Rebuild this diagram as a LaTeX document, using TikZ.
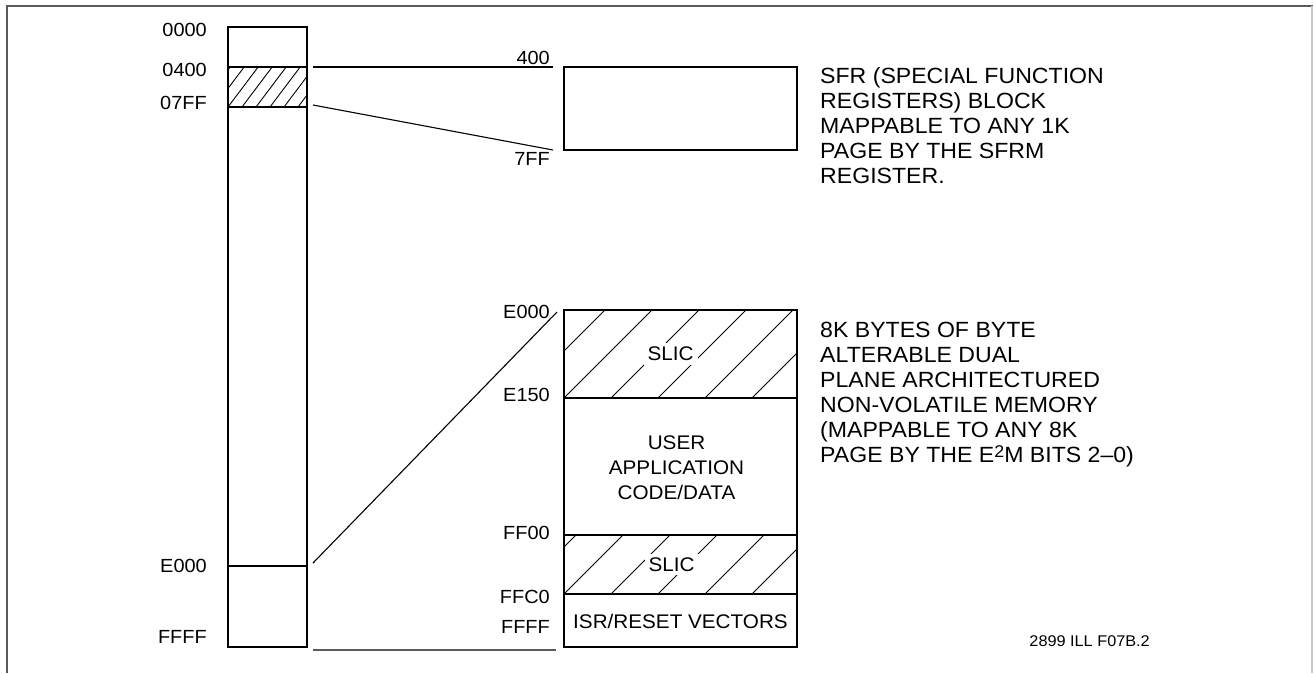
\documentclass[tikz,border=0pt]{standalone}
\usepackage{fontspec}
\setmainfont{Liberation Sans}[FakeStretch=1.05]
\usetikzlibrary{calc,positioning}
\definecolor{rule}{RGB}{90,90,90}
\definecolor{faint}{RGB}{200,200,200}
\tikzset{
  mem/.style={draw,line width=2.4pt,minimum width=79pt,inner sep=0pt,outer sep=0pt,anchor=north west},
  nvm/.style={mem,minimum width=233pt},
  hatch/.style 2 args={path picture={\foreach \k in {-8,...,8}
      \draw[line width=0.9pt] ([xshift=\k*#1]path picture bounding box.south west) -- ++(#2:300pt);}},
  addr/.style={font=\fontsize{19}{20}\selectfont,inner sep=0pt},
  desc/.style={font=\fontsize{22}{25}\selectfont,align=left,anchor=north west,inner sep=0pt},
  cell/.style={font=\fontsize{19.7}{25}\selectfont,align=center,inner sep=0pt},
  link/.style={line width=1.1pt}
}
\begin{document}
\begin{tikzpicture}[x=1pt,y=-1pt]
\useasboundingbox (0,0) rectangle (1314,673);
% frame
\draw[rule,line width=2pt] (7,673) -- (7,6) -- (1313,6);
\draw[faint,line width=2pt] (1312,6) -- (1312,673);
% full 64K map
\node[mem,minimum height=40pt] (m0) at (228,27) {};
\node[mem,minimum height=40pt,hatch={14pt}{53}] (msfr) at (228,67) {};
\node[mem,minimum height=459pt] (mlow) at (228,107) {};
\node[mem,minimum height=81pt] (mtop) at (228,566) {};
\node[addr,anchor=east] (a0000) at ([shift={(-21,3)}]m0.north west) {0000};
\node[addr,anchor=east] (a0400) at ([shift={(-21,3)}]msfr.north west) {0400};
\node[addr,anchor=east] (a07ff) at ([shift={(-21,-4)}]msfr.south west) {07FF};
\node[addr,anchor=east] (ae000) at ([shift={(-21,0)}]mtop.north west) {E000};
\node[addr,anchor=east] (affff) at ([shift={(-21,-10)}]mtop.south west) {FFFF};
% SFR block
\node[nvm,minimum height=83pt] (sfr) at (564,67) {};
\node[addr,anchor=east] (s400) at ([shift={(-14,-9)}]sfr.north west) {400};
\node[addr,anchor=east] (s7ff) at ([shift={(-14,9)}]sfr.south west) {7FF};
\node[desc] (sfrtxt) at (820,67) {SFR (SPECIAL FUNCTION\\REGISTERS) BLOCK\\MAPPABLE TO ANY 1K\\PAGE BY THE SFRM\\REGISTER.};
% 8K non-volatile block
\node[nvm,minimum height=88pt,hatch={47pt}{45}] (slic1) at (564,310) {};
\node[nvm,minimum height=137pt] (user) at (564,398) {};
\node[nvm,minimum height=59pt,hatch={47pt}{45}] (slic2) at (564,535) {};
\node[nvm,minimum height=53pt] (isr) at (564,594) {};
\node[cell,fill=white,inner sep=4pt] (t1) at ([xshift=-10]slic1.center) {SLIC};
\node[cell] (t2) at ([shift={(-4,1)}]user.center) {USER\\APPLICATION\\CODE/DATA};
\node[cell,fill=white,inner sep=4pt] (t3) at ([xshift=-9]slic2.center) {SLIC};
\node[cell] (t4) at ([yshift=-1]isr.center) {ISR/RESET VECTORS};
\node[addr,anchor=east] (ne000) at ([shift={(-14,2)}]slic1.north west) {E000};
\node[addr,anchor=east] (ne150) at ([shift={(-14,-3)}]user.north west) {E150};
\node[addr,anchor=east] (nff00) at ([shift={(-14,-2)}]slic2.north west) {FF00};
\node[addr,anchor=east] (nffc0) at ([shift={(-14,3)}]isr.north west) {FFC0};
\node[addr,anchor=east] (nffff) at ([shift={(-14,-20)}]isr.south west) {FFFF};
\node[desc] (nvmtxt) at (820,322) {8K BYTES OF BYTE\\ALTERABLE DUAL\\PLANE ARCHITECTURED\\NON-VOLATILE MEMORY\\(MAPPABLE TO ANY 8K\\PAGE BY THE E\raisebox{5pt}{\fontsize{17}{17}\selectfont 2}M BITS 2--0)};
% expansion lines
\draw[link] ([xshift=6]msfr.north east) -- ([xshift=-11]sfr.north west);
\draw[link] ([shift={(6,-2)}]msfr.south east) -- ([xshift=-11]sfr.south west);
\draw[link] ([shift={(6,-3)}]mtop.north east) -- ([shift={(-7,2)}]slic1.north west);
\draw[link,rule] ([shift={(6,3)}]mtop.south east) -- ([shift={(-8,3)}]isr.south west);
\node[font=\fontsize{15.5}{16}\selectfont,anchor=base east,inner sep=0pt] (fig) at (1150,646) {2899 ILL F07B.2};
\end{tikzpicture}
\end{document}
